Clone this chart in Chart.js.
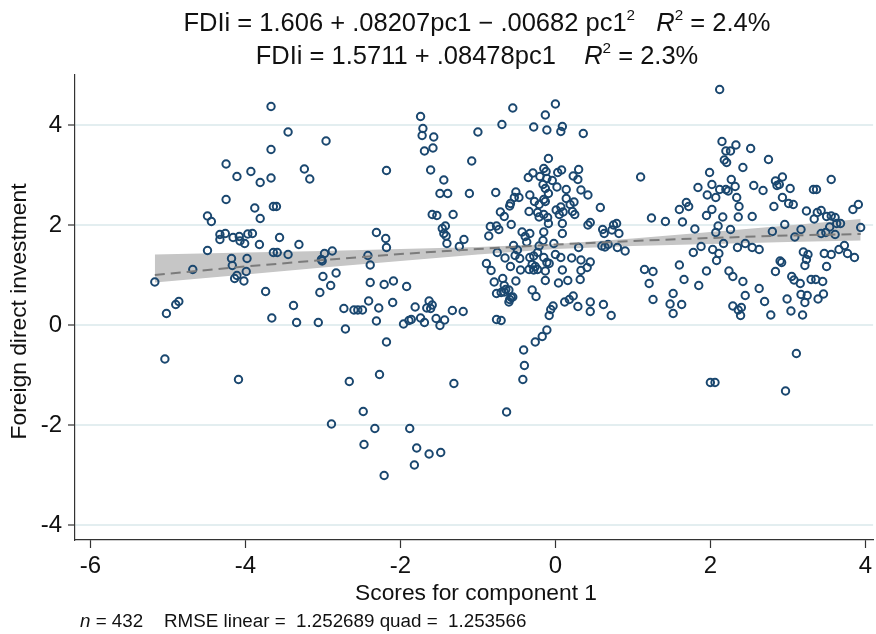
<!DOCTYPE html>
<html>
<head>
<meta charset="utf-8">
<script src="https://cdn.jsdelivr.net/npm/chart.js@4.4.1/dist/chart.umd.min.js"></script>
<style>
  html, body { margin: 0; padding: 0; background: #fff; }
  #grafico { display: block; }
</style>
</head>
<body>
<canvas id="grafico" width="876" height="634"></canvas>
<script>
// eixos
const xTicks = [-6, -4, -2, 0, 2, 4];
const yTicks = [-4, -2, 0, 2, 4];

// titulos e notas
const tituloQuad = [
  { t: 'FDIi = 1.606 + .08207pc1 \u2212 .00682 pc1' }, { t: '2', sup: true },
  { t: '   ' }, { t: 'R', it: true }, { t: '2', sup: true }, { t: ' = 2.4%' }
];
const tituloLin = [
  { t: 'FDIi = 1.5711 + .08478pc1    ' }, { t: 'R', it: true }, { t: '2', sup: true }, { t: ' = 2.3%' }
];
const nota = [{ t: 'n', it: true }, { t: ' = 432    RMSE linear =  1.252689 quad =  1.253566' }];
const tituloX = 'Scores for component 1';
const tituloY = 'Foreign direct investment';

// pc1 score, FDIi
const scatterPoints = [
  [-3.67,4.37],[-3.67,3.51],[-4.25,3.22],[-4.11,2.97],[-3.93,3.07],[-3.81,2.85],[-3.67,2.94],[-4.25,2.51],
  [-3.88,2.34],[-3.64,2.37],[-3.81,2.13],[-4.49,2.18],[-4.44,2.07],[-4.33,1.81],[-4.26,1.83],[-4.16,1.75],
  [-4.08,1.77],[-3.97,1.82],[-3.91,1.83],
  [-4.33,1.71],[-4.07,1.68],[-4.01,1.63],[-3.82,1.61],[-4.49,1.49],[-4.18,1.33],[-3.98,1.33],[-3.64,1.45],
  [-4.68,1.11],[-4.17,1.19],[-4.11,0.99],[-4.14,0.93],[-3.99,1.07],[-4.02,0.88],[-5.17,0.86],[-3.74,0.67],
  [-4.90,0.41],[-4.86,0.47],[-5.02,0.23],[-3.66,0.14],[-5.04,-0.68],[-4.09,-1.09],
  [-1.74,4.17],[-1.71,3.93],[-1.72,3.79],[-1.57,3.76],[-3.45,3.86],[-2.96,3.68],[-1.58,3.54],[-1.69,3.48],
  [-3.24,3.12],[-3.17,2.92],[-2.18,3.09],[-1.61,3.10],[-1.44,2.90],[-1.49,2.63],[-1.39,2.63],[-1.08,3.28],
  [-1.11,2.63],[-3.60,2.37],[-1.59,2.21],[-1.53,2.19],[-1.32,2.21],[-1.42,1.98],[-1.46,1.93],[-1.44,1.83],
  [-1.41,1.78],[-3.56,1.75],[-2.31,1.85],[-2.19,1.73],[-1.18,1.71],
  [-3.31,1.61],[-2.18,1.55],[-3.59,1.45],[-3.45,1.41],[-2.98,1.43],[-3.02,1.31],[-3.01,1.28],[-2.88,1.48],
  [-2.42,1.39],[-2.39,1.20],[-1.40,1.63],[-1.24,1.57],[-3.00,0.97],[-2.83,1.04],[-2.90,0.79],[-3.04,0.65],
  [-2.39,0.85],[-2.21,0.81],[-2.09,0.88],[-1.92,0.77],[-3.38,0.39],[-2.73,0.33],[-2.60,0.30],[-2.55,0.30],
  [-2.49,0.30],[-2.41,0.48],[-2.28,0.34],[-2.10,0.45],[-1.81,0.36],[-1.63,0.48],[-1.59,0.40],[-1.66,0.34],
  [-1.61,0.33],[-1.33,0.29],[-1.19,0.27],[-3.34,0.05],[-3.06,0.05],[-2.71,-0.08],[-2.31,0.08],[-1.96,0.02],
  [-1.89,0.09],[-1.86,0.11],[-1.74,0.14],[-1.69,0.05],[-1.54,0.13],[-1.49,-0.01],[-1.43,0.10],[-2.18,-0.34],
  [-2.27,-0.99],[-2.66,-1.13],[-1.31,-1.17],
  [-2.89,-1.98],[-2.48,-1.73],[-2.33,-2.07],[-2.47,-2.39],[-2.21,-3.01],[-1.88,-2.07],[-1.79,-2.46],
  [-1.82,-2.80],[-1.63,-2.58],[-1.48,-2.55],[-0.63,-1.74],[2.97,-1.32],
  [-0.55,4.34],[0.00,4.42],[-0.13,4.20],[-0.69,4.01],[-0.28,3.96],[-0.11,3.90],[0.09,3.97],[0.07,3.87],
  [0.36,3.83],[-1.00,3.86],[-0.09,3.33],[1.10,2.96],[-0.15,3.13],[-0.12,3.07],[0.08,3.10],[0.03,3.05],
  [0.30,3.11],[-0.29,3.04],[-0.35,2.95],[-0.20,2.97],[-0.11,2.93],[-0.04,2.89],[0.23,2.98],[0.29,2.91],
  [-0.16,2.81],[-0.13,2.73],[0.02,2.76],[0.14,2.71],[0.14,2.53],[-0.09,2.63],[0.33,2.70],[0.42,2.60],
  [-0.77,2.65],[-0.51,2.66],[-0.47,2.55],[-0.53,2.55],[-0.58,2.43],[-0.59,2.38],[-0.33,2.60],[-0.27,2.47],
  [-0.21,2.41],[-0.15,2.51],[-0.13,2.47],[0.01,2.30],[0.07,2.36],[0.10,2.26],[0.05,2.21],[0.19,2.41],
  [0.24,2.46],[0.22,2.27],[0.25,2.21],[-0.34,2.27],[-0.23,2.25],[-0.21,2.16],[-0.15,2.21],[-0.10,2.15],
  [-0.09,2.03],[-0.71,2.26],[-0.66,2.17],[-0.57,2.01],[0.09,2.03],[0.58,2.35],[-0.84,1.97],[-0.76,1.98],
  [-0.73,1.91],[-0.86,1.78],[-0.43,1.86],[-0.33,1.83],[-0.39,1.77],[-0.15,1.86],[0.09,1.83],[0.42,2.00],
  [0.45,2.05],[0.61,1.91],[0.63,1.83],[0.75,2.00],[0.79,2.03],[0.73,1.90],[0.82,1.83],[1.24,2.14],[1.42,2.07],
  [-0.54,1.59],[-0.49,1.50],[-0.37,1.66],[-0.21,1.58],[-0.16,1.69],[-0.02,1.63],[-0.75,1.45],[-0.89,1.23],
  [-0.83,1.09],[-0.65,1.34],[-0.52,1.39],[-0.46,1.33],[-0.58,1.17],[-0.33,1.35],[-0.28,1.38],[-0.23,1.45],
  [-0.15,1.35],[-0.30,1.21],[-0.26,1.17],[-0.34,1.11],[-0.28,1.10],[-0.23,1.11],[-0.11,1.25],[-0.08,1.23],
  [-0.45,1.10],[-0.13,1.08],[0.00,1.41],[0.07,1.35],[0.09,1.10],[0.21,1.34],[0.33,1.30],[0.45,1.26],
  [0.41,1.15],[0.33,1.09],[0.30,1.55],[0.60,1.58],[0.64,1.56],[0.68,1.61],[0.80,1.55],[0.90,1.48],
  [-0.79,0.86],[-0.68,0.93],[-0.66,0.79],[-0.51,0.88],[-0.76,0.63],[-0.70,0.65],[-0.64,0.71],[-0.60,0.70],
  [-0.66,0.66],[-0.59,0.51],[-0.57,0.55],[-0.55,0.56],[-0.60,0.46],[-0.30,0.70],[-0.25,0.57],[-0.13,0.89],
  [0.04,0.84],[0.16,0.89],[0.32,0.91],[-0.03,0.38],[-0.06,0.31],[-0.08,0.19],[0.12,0.46],[0.18,0.51],
  [0.23,0.58],[0.29,0.37],[0.45,0.46],[0.45,0.27],[0.62,0.41],[0.72,0.19],[-0.76,0.11],[-0.70,0.09],
  [-0.11,-0.10],[-0.17,-0.23],[-0.26,-0.34],[-0.41,-0.50],[-0.40,-0.81],[-0.42,-1.09],[1.15,1.11],[1.26,1.07],
  [1.21,0.83],[1.26,0.51],[1.48,0.42],[1.52,0.63],[1.52,0.23],
  [2.12,4.71],[2.15,3.67],[2.33,3.60],[2.20,3.48],[2.26,3.48],[2.52,3.53],[2.18,3.30],[2.21,3.25],
  [2.75,3.31],[2.42,3.15],[1.99,3.05],[2.27,2.91],[1.84,2.75],[2.02,2.81],[2.12,2.71],[2.20,2.71],
  [2.23,2.68],[2.32,2.77],[1.96,2.60],[2.07,2.55],[2.34,2.55],[2.37,2.37],[2.56,2.79],[2.68,2.69],
  [2.84,2.88],[2.89,2.81],[2.93,2.96],[2.86,2.79],[3.03,2.73],[2.93,2.55],[3.01,2.43],[3.07,2.41],
  [2.82,2.37],[1.69,2.45],[1.72,2.37],[1.60,2.31],[1.64,2.06],[2.02,2.31],[1.95,2.19],[2.16,2.16],
  [2.10,1.98],[2.07,1.85],[2.36,2.16],[2.54,2.17],[1.80,1.92],[2.26,1.91],[2.80,1.87],[2.96,2.01],
  [3.17,1.91],[3.09,1.76],[3.33,2.71],[3.37,2.71],[3.56,2.91],[3.24,2.28],[3.34,2.12],[3.38,2.25],
  [3.43,2.29],[3.50,2.17],[3.56,2.18],[3.61,2.15],[3.54,1.96],[3.63,2.03],[3.68,2.03],[3.43,1.83],
  [3.49,1.85],[3.61,1.81],[3.84,2.31],[3.91,2.41],[3.94,1.95],
  [2.17,1.63],[2.35,1.55],[2.45,1.63],[2.54,1.55],[2.63,1.51],[1.88,1.57],[1.78,1.45],[2.03,1.51],
  [2.11,1.43],[2.08,1.29],[1.60,1.20],[1.95,1.08],[1.66,0.91],[1.85,0.79],[1.63,0.41],[2.24,1.08],
  [2.29,0.97],[2.42,0.87],[2.45,0.59],[2.63,0.73],[2.29,0.38],[2.36,0.30],[2.40,0.35],[2.39,0.19],
  [2.70,0.47],[2.78,0.20],[2.90,1.28],[2.92,1.25],[2.84,1.07],[3.20,1.46],[3.26,1.41],[3.24,1.31],
  [3.22,1.19],[3.05,0.97],[3.08,0.90],[3.16,0.83],[3.30,0.91],[3.36,0.91],[3.45,0.87],[2.99,0.52],
  [3.17,0.61],[3.25,0.59],[3.22,0.45],[3.39,0.52],[3.46,0.62],[3.04,0.28],[3.19,0.20],[3.47,1.43],
  [3.56,1.41],[3.66,1.51],[3.73,1.59],[3.77,1.43],[3.86,1.35],[3.50,1.17],[3.11,-0.57],[2.00,-1.15],[2.06,-1.15]
];

// ajuste quadratico (tracejado)
const fitX = [-5.17, -4, -3, -2, -1, 0, 1, 2, 3, 3.94];
const fitY = [1.00, 1.17, 1.30, 1.42, 1.52, 1.61, 1.68, 1.74, 1.79, 1.82];
// faixa de confianca do ajuste linear
const bandUpper = [1.41, 1.45, 1.48, 1.52, 1.56, 1.62, 1.73, 1.86, 1.99, 2.12];
const bandLower = [0.85, 1.01, 1.15, 1.28, 1.41, 1.52, 1.58, 1.62, 1.66, 1.69];

const fonte = '"Liberation Sans", Arial, Helvetica, sans-serif';

function fontePara(p, tam) {
  const t = p.sup ? tam * 0.6 : tam;
  return (p.it ? 'italic ' : '') + t + 'px ' + fonte;
}

function larguraLinha(c, partes, tam) {
  let total = 0;
  partes.forEach(p => { c.font = fontePara(p, tam); total += c.measureText(p.t).width; });
  return total;
}

function linhaRica(c, partes, x, base, tam) {
  partes.forEach(p => {
    c.font = fontePara(p, tam);
    c.fillText(p.t, x, base - (p.sup ? tam * 0.42 : 0));
    x += c.measureText(p.t).width;
  });
}

const textos = {
  id: 'textos',
  afterDraw(chart) {
    const c = chart.ctx;
    const area = chart.chartArea;
    c.save();
    c.fillStyle = '#111';
    c.textAlign = 'left';
    c.textBaseline = 'alphabetic';
    const meio = 477;
    linhaRica(c, tituloQuad, meio - larguraLinha(c, tituloQuad, 25.5) / 2, 31, 25.5);
    linhaRica(c, tituloLin, meio - larguraLinha(c, tituloLin, 25.5) / 2, 64, 25.5);
    linhaRica(c, nota, 80, 627, 18.8);

    c.font = '22.8px ' + fonte;
    c.textAlign = 'center';
    c.fillText(tituloX, (area.left + area.right) / 2 + 2, 600);

    c.translate(26, (area.top + area.bottom) / 2 + 4);
    c.rotate(-Math.PI / 2);
    c.fillText(tituloY, 0, 0);
    c.restore();
  }
};

const canvas_grafico = document.getElementById('grafico');
const ctx = canvas_grafico.getContext('2d');

new Chart(ctx, {
  type: 'scatter',
  data: {
    datasets: [
      {
        type: 'line',
        label: 'quad fit',
        data: fitX.map((x, i) => ({ x: x, y: fitY[i] })),
        borderColor: '#7b7b7b',
        borderWidth: 2,
        borderDash: [10, 6],
        pointRadius: 0,
        fill: false,
        order: 0,
      },
      {
        label: 'FDIi',
        data: scatterPoints.map(p => ({ x: p[0], y: p[1] })),
        pointStyle: 'circle',
        pointRadius: 3.7,
        pointBorderWidth: 2,
        borderColor: '#1a476f',
        backgroundColor: 'rgba(255,255,255,0)',
        order: 1,
      },
      {
        type: 'line',
        label: 'ci upper',
        data: fitX.map((x, i) => ({ x: x, y: bandUpper[i] })),
        borderColor: 'rgba(0,0,0,0)',
        borderWidth: 1,
        pointRadius: 0,
        fill: '+1',
        backgroundColor: '#c6c6c6',
        order: 2,
      },
      {
        type: 'line',
        label: 'ci lower',
        data: fitX.map((x, i) => ({ x: x, y: bandLower[i] })),
        borderColor: 'rgba(0,0,0,0)',
        borderWidth: 1,
        pointRadius: 0,
        fill: false,
        order: 3,
      },
    ],
  },
  options: {
    responsive: false,
    animation: false,
    devicePixelRatio: 1,
    layout: { autoPadding: false, padding: { top: 75, left: 0, right: 0, bottom: 0 } },
    plugins: { legend: { display: false }, tooltip: { enabled: false }, title: { display: false } },
    scales: {
      x: {
        type: 'linear',
        min: -6.2,
        max: 4.1,
        afterBuildTicks: s => { s.ticks = xTicks.map(v => ({ value: v })); },
        afterFit: s => { s.height = 94; },
        grid: { drawOnChartArea: false, drawTicks: true, tickLength: 8, tickColor: '#333', tickWidth: 1.2 },
        border: { display: true, color: '#333', width: 1.2 },
        ticks: { font: { family: fonte, size: 24 }, color: '#111', padding: 4, maxRotation: 0, autoSkip: false },
      },
      y: {
        type: 'linear',
        min: -4.3,
        max: 5.0,
        afterBuildTicks: s => { s.ticks = yTicks.map(v => ({ value: v })); },
        afterFit: s => { s.width = 75; },
        grid: { color: '#e3eef0', lineWidth: 2, drawTicks: true, tickLength: 7, tickColor: '#333', tickWidth: 1.2 },
        border: { display: true, color: '#333', width: 1.2 },
        ticks: { font: { family: fonte, size: 24 }, color: '#111', padding: 6, autoSkip: false },
      },
    },
  },
  plugins: [textos],
});
</script>
</body>
</html>
